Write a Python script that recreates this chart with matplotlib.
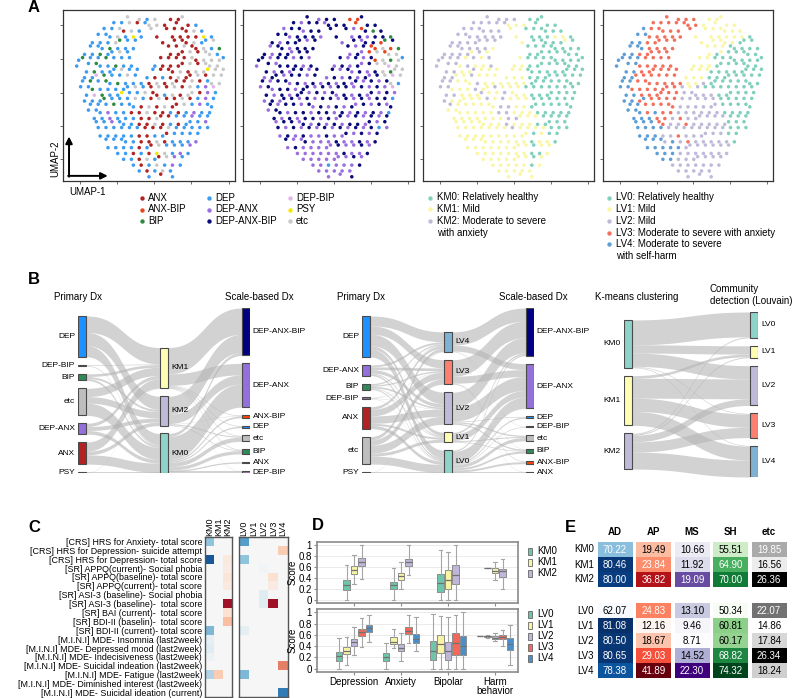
import numpy as np
import matplotlib
matplotlib.use('Agg')
import matplotlib.pyplot as plt
from matplotlib.patches import Rectangle

plt.rcParams['font.family'] = ['Liberation Sans', 'DejaVu Sans']

# ---------------- data ----------------
# UMAP panels: each char is one patient ('.' = empty)
map_primary = [
    "..............e..e.D.e...A.Ae..........",
    "..........D.D.e.A.De.e.A..A..A.D.......",
    "........D.D.eA.e.D..e...A.A.AA.e.D.....",
    "......D.DD.e.D.P.D...A...A.A.A.A.P.D...",
    ".....D.D.D.eB.D.D......A..A.AA.e.DD.e..",
    "....D.DD.B.D.D.D........A.A.e.AA.e.D.B.",
    "...D.D.B.DD.e.D..........A.AA.e.A.ee.D",
    ".DB.D.D.B.D.D.D.......A.A.A.A.eA.e.e.eD",
    ".D..D.BD.D.B.D.D.....D.A.A.AA.e.A.ee.e.",
    "...D.B.D.DD.e.D.D...D.A.AA.e.A.e.eP.e.e",
    "...D.Db.B.D.D.e.D..D.A.D.A.e.AA.e.A.e.e",
    "..D.B.D.BD.B.D.D.D.A.e.A.eA.A.e.A.De.e.",
    "..D.DB.D.D.D.DD.e.D.A.e.A.e.A.e.D.N.b..",
    "...D.b.B.D.DP.D.D.e.AA.D.e.A.ee.A.N.D..",
    "...D.D.DB.D.D.D.e.D.A.e.A.A.e.A.D.N.D..",
    "....D.D.D.B.D.DD.A.e.A.e.AA.e.D.N.DD...",
    "....D.DD.N.D.D.A.A.e.A.A.D.A.D.N.D.D...",
    ".....D.D.N.D.D.D.A.A.eA.A.D.D.N.D.D....",
    "......D.D.N.DD.D.A.A.e.A.D.A.DD.D.N....",
    "......D.D.D.D.D.D.A.A.A.e.D.D.D.D.D....",
    ".......D.D.D.D.D.A.A.D.DA.D.D.D.D......",
    "........D.D.DD.D.A.A.e.A.D.D.D.N.......",
    ".........D.D.D.D.A.DA.e.D.D.D.N........",
    "...........D.D.A.D.A.P.e.D.N.D.........",
    ".............D.D.A.e.DA.e.N.D..........",
    "...............D.A.D.e.D.N.D...........",
    ".................D.A.D.e.D.............",
    "...................D..A..D.............",
]
map_scale = [
    "..............X..N.X.X...a.aX..........",
    "..........X.N.X.X.NX.X.X..a..X.X.......",
    "........N.X.XN.X.X..X...X.N.aX.B.X.....",
    "......X.XN.X.X.X.N...X...N.X.N.X.X.B...",
    ".....X.N.X.XX.N.X......N..X.NX.X.aB.X..",
    "....N.XX.N.X.X.X........X.N.X.aa.e.a.B.",
    "...X.N.X.XN.X.X..........N.XN.a.e.ae.e",
    ".XX.N.X.X.N.X.N.......X.N.X.N.Xa.e.B.eD",
    ".N..X.NX.X.X.N.X.....N.X.N.XN.X.e.eb.e.",
    "...X.N.X.NX.X.N.X...X.N.XN.X.N.X.e.Be.e",
    "...N.XX.N.X.X.N.X..N.X.N.X.N.XN.X.e.b.e",
    "..X.N.X.XN.X.N.X.N.X.N.X.NX.N.X.N.Xe.D.",
    "..N.XN.X.X.N.XX.N.X.N.X.X.N.X.N.X.N.b..",
    "...X.N.X.N.XX.N.X.N.XN.X.N.X.NX.N.X.N..",
    "...N.X.NX.X.N.X.N.X.X.N.X.N.X.N.X.X.D..",
    "....X.N.X.X.N.XN.X.N.X.N.XN.X.N.X.NX...",
    "....N.XX.N.X.X.N.X.X.N.X.N.X.N.X.N.D...",
    ".....X.N.X.N.X.X.N.X.NX.N.X.N.X.N.X....",
    "......N.X.X.NX.N.X.N.X.N.X.X.NX.N.X....",
    "......X.N.X.N.X.N.X.N.X.N.X.N.X.D.N....",
    ".......N.X.N.X.N.N.X.N.NX.N.X.N.X......",
    "........X.N.NX.N.N.N.X.N.N.X.N.X.......",
    ".........N.X.N.N.N.NN.X.N.N.X.N........",
    "...........N.N.N.N.N.N.X.N.N.X.........",
    ".............N.N.N.N.NN.N.X.N..........",
    "...............N.N.D.N.N.N.X...........",
    ".................N.N.N.N.N.............",
    "...................N..N..X.............",
]
map_km = [
    "..............2..2.2.2...0.00..........",
    "..........2.2.2.2.21.1.1..0..0.0.......",
    "........2.2.22.2.2..1...0.0.00.0.0.....",
    "......2.22.2.2.2.2...1...0.0.0.1.1.0...",
    ".....2.2.2.22.2.2......1..0.00.0.01.0..",
    "....2.22.2.2.2.1........0.0.0.00.0.0.0.",
    "...2.2.2.21.2.1..........0.00.0.0.00.0",
    ".22.2.2.1.2.1.2.......1.0.0.0.00.0.0.00",
    ".2..2.21.2.1.1.2.....1.1.0.00.0.0.00.0.",
    "...2.2.1.12.1.1.1...1.1.00.0.0.0.00.0.0",
    "...2.21.1.2.1.1.1..1.1.1.0.0.00.0.0.0.0",
    "..2.2.1.11.2.1.1.1.1.1.1.00.0.0.0.00.0.",
    "..2.21.1.1.2.11.2.1.1.1.0.0.0.0.0.0.0..",
    "...2.2.1.1.12.1.1.2.11.1.0.0.00.0.0.0..",
    "...2.1.11.1.1.2.1.2.1.1.1.0.0.0.0.0.0..",
    "....2.1.1.1.1.11.2.2.1.1.00.0.0.0.00...",
    "....1.11.1.1.1.1.2.2.1.1.1.0.0.0.0.0...",
    ".....1.1.1.1.1.1.1.2.21.1.1.0.0.0.0....",
    "......1.1.1.11.1.1.2.1.1.1.0.00.0.0....",
    "......1.1.1.1.1.1.1.2.1.1.1.1.0.0.0....",
    ".......1.1.1.1.1.1.1.1.11.0.1.0.0......",
    "........1.1.11.1.1.1.1.1.0.1.1.0.......",
    ".........1.1.1.1.1.1.11.1.0.1.1........",
    "...........1.1.1.1.1.1.1.0.0.1.........",
    ".............1.1.1.1.11.1.0.1..........",
    "...............1.1.1.1.1.0.1...........",
    ".................1.1.1.1.1.............",
    "...................1..1..1.............",
]
map_lv = [
    "..............3..3.3.3...1.11..........",
    "..........3.3.3.3.33.3.1..1..1.1.......",
    "........4.3.33.3.3..3...1.1.11.1.1.....",
    "......4.43.3.3.3.3...1...1.1.1.1.1.0...",
    ".....4.4.3.33.3.3......1..1.11.1.00.0..",
    "....4.44.3.3.3.3........1.1.1.00.0.0.0.",
    "...4.4.3.33.3.3..........1.01.0.0.00.0",
    ".44.4.4.3.3.3.3.......1.1.0.0.00.0.0.00",
    ".4..4.43.3.3.3.3.....1.1.1.00.0.0.00.0.",
    "...4.4.3.33.3.3.3...1.1.10.0.0.0.00.0.0",
    "...4.43.3.3.3.3.3..1.1.1.0.0.00.0.0.0.0",
    "..4.4.3.33.3.3.3.3.1.1.2.00.0.0.0.00.0.",
    "..4.43.3.3.3.33.3.2.1.2.0.0.0.0.0.0.0..",
    "...4.4.3.3.33.3.3.2.22.2.2.0.00.0.0.0..",
    "...4.4.34.3.3.3.3.2.2.2.2.2.0.0.0.0.0..",
    "....4.4.3.3.3.33.2.2.2.2.22.0.0.0.00...",
    "....4.44.3.4.3.3.2.2.2.2.2.2.0.0.0.0...",
    ".....4.4.4.3.3.2.3.2.22.2.2.2.0.0.0....",
    "......4.4.4.33.2.2.3.2.2.2.2.20.0.0....",
    "......4.4.4.4.2.2.2.2.2.2.2.2.0.0.0....",
    ".......4.4.4.2.2.3.2.2.22.2.2.0.0......",
    "........4.4.42.4.2.3.2.2.2.2.2.0.......",
    ".........4.4.4.4.4.22.2.2.2.2.2........",
    "...........4.4.4.2.2.2.2.2.2.2.........",
    ".............4.4.2.2.22.2.2.2..........",
    "...............2.2.2.2.2.2.2...........",
    ".................2.2.2.2.2.............",
    "...................2..2..2.............",
]
dx_names = {'A': 'ANX', 'a': 'ANX-BIP', 'B': 'BIP', 'D': 'DEP', 'N': 'DEP-ANX',
            'X': 'DEP-ANX-BIP', 'b': 'DEP-BIP', 'P': 'PSY', 'e': 'etc'}
dx_colors = {'A': '#B22222', 'a': '#E8461E', 'B': '#2E8B3E', 'D': '#3D9BF0', 'N': '#9B6FE0',
             'X': '#0A0A7A', 'b': '#E2B4EA', 'P': '#F5E800', 'e': '#C8C8C8'}
km_colors = {'0': '#7FD0BC', '1': '#FAF6A4', '2': '#BEBADA'}
lv_colors = {'0': '#7FD0BC', '1': '#FAF6A4', '2': '#BEBADA', '3': '#F4705E', '4': '#5E9ED6'}
km_legend = ['KM0: Relatively healthy', 'KM1: Mild', 'KM2: Moderate to severe\nwith anxiety']
lv_legend = ['LV0: Relatively healthy', 'LV1: Mild', 'LV2: Mild', 'LV3: Moderate to severe with anxiety',
             'LV4: Moderate to severe\nwith self-harm']

# Sankey diagrams (B)
s1_cols = [['DEP', 'DEP-BIP', 'BIP', 'etc', 'DEP-ANX', 'ANX', 'PSY'],
           ['KM1', 'KM2', 'KM0'],
           ['DEP-ANX-BIP', 'DEP-ANX', 'ANX-BIP', 'DEP', 'etc', 'BIP', 'ANX', 'DEP-BIP']]
s1_flows = [
    [('DEP', 'KM1', 50), ('DEP', 'KM2', 40), ('DEP', 'KM0', 34),
     ('DEP-BIP', 'KM1', 2), ('DEP-BIP', 'KM0', 2),
     ('BIP', 'KM1', 8), ('BIP', 'KM2', 6), ('BIP', 'KM0', 6),
     ('etc', 'KM1', 25), ('etc', 'KM2', 20), ('etc', 'KM0', 37),
     ('DEP-ANX', 'KM1', 10), ('DEP-ANX', 'KM2', 12), ('DEP-ANX', 'KM0', 11),
     ('ANX', 'KM1', 28), ('ANX', 'KM2', 11), ('ANX', 'KM0', 28),
     ('PSY', 'KM1', 1), ('PSY', 'KM0', 2)],
    [('KM1', 'DEP-ANX-BIP', 80), ('KM1', 'DEP-ANX', 35), ('KM1', 'ANX-BIP', 2), ('KM1', 'DEP', 2),
     ('KM1', 'etc', 2), ('KM1', 'BIP', 2), ('KM1', 'DEP-BIP', 1),
     ('KM2', 'DEP-ANX-BIP', 55), ('KM2', 'DEP-ANX', 28), ('KM2', 'ANX-BIP', 1), ('KM2', 'etc', 3),
     ('KM2', 'BIP', 2),
     ('KM0', 'DEP-ANX-BIP', 9), ('KM0', 'DEP-ANX', 70), ('KM0', 'ANX-BIP', 5), ('KM0', 'DEP', 4),
     ('KM0', 'etc', 13), ('KM0', 'BIP', 10), ('KM0', 'ANX', 4), ('KM0', 'DEP-BIP', 5)],
]
s2_cols = [['DEP', 'DEP-ANX', 'BIP', 'DEP-BIP', 'ANX', 'etc', 'PSY'],
           ['LV4', 'LV3', 'LV2', 'LV1', 'LV0'],
           ['DEP-ANX-BIP', 'DEP-ANX', 'DEP', 'DEP-BIP', 'etc', 'BIP', 'ANX-BIP', 'ANX']]
s2_flows = [
    [('DEP', 'LV4', 30), ('DEP', 'LV3', 25), ('DEP', 'LV2', 35), ('DEP', 'LV1', 10), ('DEP', 'LV0', 24),
     ('DEP-ANX', 'LV4', 6), ('DEP-ANX', 'LV3', 8), ('DEP-ANX', 'LV2', 10), ('DEP-ANX', 'LV1', 3),
     ('DEP-ANX', 'LV0', 5),
     ('BIP', 'LV4', 4), ('BIP', 'LV3', 4), ('BIP', 'LV2', 5), ('BIP', 'LV1', 2), ('BIP', 'LV0', 3),
     ('DEP-BIP', 'LV4', 1), ('DEP-BIP', 'LV3', 1), ('DEP-BIP', 'LV2', 1), ('DEP-BIP', 'LV0', 1),
     ('ANX', 'LV4', 8), ('ANX', 'LV3', 20), ('ANX', 'LV2', 22), ('ANX', 'LV1', 6), ('ANX', 'LV0', 10),
     ('etc', 'LV4', 10), ('etc', 'LV3', 16), ('etc', 'LV2', 24), ('etc', 'LV1', 9), ('etc', 'LV0', 24),
     ('PSY', 'LV4', 1), ('PSY', 'LV0', 2)],
    [('LV4', 'DEP-ANX-BIP', 40), ('LV4', 'DEP-ANX', 18), ('LV4', 'DEP-BIP', 1), ('LV4', 'BIP', 1),
     ('LV3', 'DEP-ANX-BIP', 50), ('LV3', 'DEP-ANX', 21), ('LV3', 'ANX-BIP', 2), ('LV3', 'ANX', 1),
     ('LV2', 'DEP-ANX-BIP', 45), ('LV2', 'DEP-ANX', 42), ('LV2', 'DEP', 2), ('LV2', 'etc', 4),
     ('LV2', 'BIP', 4),
     ('LV1', 'DEP-ANX-BIP', 5), ('LV1', 'DEP-ANX', 20), ('LV1', 'etc', 3), ('LV1', 'BIP', 2),
     ('LV0', 'DEP-ANX-BIP', 4), ('LV0', 'DEP-ANX', 34), ('LV0', 'DEP', 4), ('LV0', 'DEP-BIP', 2),
     ('LV0', 'etc', 10), ('LV0', 'BIP', 6), ('LV0', 'ANX-BIP', 6), ('LV0', 'ANX', 3)],
]
s3_cols = [['KM0', 'KM1', 'KM2'], ['LV0', 'LV1', 'LV2', 'LV3', 'LV4']]
s3_flows = [
    [('KM0', 'LV0', 75), ('KM0', 'LV1', 25), ('KM0', 'LV2', 40), ('KM0', 'LV3', 2), ('KM0', 'LV4', 2),
     ('KM1', 'LV1', 8), ('KM1', 'LV2', 60), ('KM1', 'LV3', 40), ('KM1', 'LV4', 42),
     ('KM2', 'LV0', 3), ('KM2', 'LV1', 3), ('KM2', 'LV2', 20), ('KM2', 'LV3', 31), ('KM2', 'LV4', 51)],
]
node_colors = {'DEP': '#1E90FF', 'DEP-BIP': '#9B72A8', 'BIP': '#2E8B57', 'etc': '#BEBEBE',
               'DEP-ANX': '#9370DB', 'ANX': '#B22222', 'PSY': '#333333', 'ANX-BIP': '#FF4500',
               'DEP-ANX-BIP': '#000080', 'KM0': '#8DD3C7', 'KM1': '#FFFFB3', 'KM2': '#BEBADA',
               'LV0': '#8DD3C7', 'LV1': '#FFFFB3', 'LV2': '#BEBADA', 'LV3': '#FB8072', 'LV4': '#80B1D3'}

# heatmap (C)
c_rows = ['[CRS] HRS for Anxiety- total score',
          '[CRS] HRS for Depression- suicide attempt',
          '[CRS] HRS for Depression- total score',
          '[SR] APPQ(current)- Social phobia',
          '[SR] APPQ(baseline)- total score',
          '[SR] APPQ(current)- total score',
          '[SR] ASI-3 (baseline)- Social phobia',
          '[SR] ASI-3 (baseline)-  total score',
          '[SR] BAI (current)-  total score',
          '[SR] BDI-II (baselin)-  total score',
          '[SR] BDI-II (current)- total score',
          '[M.I.N.I] MDE- Insomnia (last2week)',
          '[M.I.N.I] MDE- Depressed mood (last2week)',
          '[M.I.N.I] MDE- Indecisiveness (last2week)',
          '[M.I.N.I] MDE- Suicidal indeation (last2week)',
          '[M.I.N.I] MDE- Fatigue (last2week)',
          '[M.I.N.I] MDE- Diminished interest (last2week)',
          '[M.I.N.I] MDE- Suicidal ideation (current)']
km_labels = ['KM0', 'KM1', 'KM2']
lv_labels = ['LV0', 'LV1', 'LV2', 'LV3', 'LV4']
c_km = [[-0.40, 0, 0], [0, 0, 0], [-0.85, 0, 0.10], [0, 0, 0.08], [0, 0, 0.12], [0, 0, 0.10],
        [0, 0, 0], [0, 0, 0.85], [0, 0, 0.15], [0, 0, 0.30], [-0.45, 0, 0], [-0.10, 0, 0],
        [-0.12, 0, 0], [-0.05, 0, 0], [0, 0, 0], [-0.30, 0.25, 0], [0, 0, 0], [0, 0, 0]]
c_lv = [[-0.55, 0, 0, 0, 0], [0, 0, 0, 0, 0.25], [-0.40, 0, 0, 0, 0], [0, 0, -0.03, 0, 0],
        [0, 0, 0, 0.15, 0], [0, 0, 0, 0.08, 0], [0, 0, -0.12, 0, 0], [0, 0, -0.12, 0.85, 0],
        [0, 0, 0, 0, 0], [0, 0, 0, 0, 0], [-0.10, 0, 0, 0, 0], [0, 0, 0, 0, 0], [0, 0, 0, 0, 0],
        [0, 0, 0, 0, 0], [0, 0, 0, 0, 0.50], [-0.45, 0, 0, 0, 0], [0, 0, 0, 0, 0], [0, 0, 0, 0, -0.70]]

# boxplots (D): (whislo, q1, median, q3, whishi)
d_groups = ['Depression', 'Anxiety', 'Bipolar', 'Harm\nbehavior']
d_km = [
    [(0.00, 0.17, 0.27, 0.37, 0.63), (0.28, 0.47, 0.55, 0.62, 0.82), (0.38, 0.62, 0.70, 0.77, 1.00)],
    [(0.00, 0.19, 0.27, 0.33, 0.58), (0.20, 0.37, 0.44, 0.50, 0.70), (0.46, 0.62, 0.69, 0.75, 1.00)],
    [(0.00, 0.15, 0.31, 0.48, 0.92), (0.00, 0.20, 0.37, 0.55, 0.88), (0.00, 0.28, 0.45, 0.63, 1.00)],
    [(0.58, 0.58, 0.58, 0.58, 0.58), (0.37, 0.49, 0.53, 0.58, 0.69), (0.20, 0.42, 0.52, 0.57, 0.75)],
]
d_lv = [
    [(0.00, 0.13, 0.22, 0.30, 0.54), (0.07, 0.26, 0.32, 0.38, 0.56), (0.25, 0.41, 0.48, 0.53, 0.74),
     (0.39, 0.58, 0.65, 0.70, 0.90), (0.48, 0.65, 0.72, 0.78, 0.96)],
    [(0.00, 0.14, 0.21, 0.27, 0.45), (0.37, 0.43, 0.48, 0.56, 0.70), (0.14, 0.31, 0.37, 0.43, 0.63),
     (0.46, 0.61, 0.67, 0.74, 0.96), (0.31, 0.45, 0.53, 0.62, 0.92)],
    [(0.00, 0.16, 0.31, 0.49, 0.97), (0.00, 0.27, 0.43, 0.60, 0.93), (0.00, 0.15, 0.31, 0.48, 0.92),
     (0.00, 0.25, 0.45, 0.63, 0.95), (0.00, 0.25, 0.40, 0.58, 1.00)],
    [(0.58, 0.58, 0.58, 0.58, 0.58), (0.55, 0.57, 0.58, 0.58, 0.60), (0.50, 0.53, 0.55, 0.58, 0.63),
     (0.40, 0.52, 0.56, 0.60, 0.69), (0.07, 0.33, 0.43, 0.54, 0.78)],
]
box_km_colors = ['#6DC6AA', '#F8F4A6', '#BFB6DA']
box_lv_colors = ['#6DC6AA', '#F8F4A6', '#BFB6DA', '#F2685A', '#4A8FCB']

# table (E)
e_cols = ['AD', 'AP', 'MS', 'SH', 'etc']
e_km = [[70.22, 19.49, 10.66, 55.51, 19.85],
        [80.46, 23.84, 11.92, 64.90, 16.56],
        [80.00, 36.82, 19.09, 70.00, 26.36]]
e_lv = [[62.07, 24.83, 13.10, 50.34, 22.07],
        [81.08, 12.16, 9.46, 60.81, 14.86],
        [80.50, 18.67, 8.71, 60.17, 17.84],
        [80.65, 29.03, 14.52, 68.82, 26.34],
        [78.38, 41.89, 22.30, 74.32, 18.24]]
e_cmaps = ['Blues', 'Reds', 'Purples', 'Greens', 'Greys']

# ---------------- figure ----------------
W, H = 793, 698
fig = plt.figure(figsize=(W / 100, H / 100), dpi=100)

# overlay in pixel units for free text / legends
ov = fig.add_axes([0, 0, 1, 1])
ov.set_xlim(0, W)
ov.set_ylim(H, 0)
ov.axis('off')


def add_ax(x0, y0, x1, y1):
    # pixel box (top-left origin) -> figure fraction
    return fig.add_axes([x0 / W, 1 - y1 / H, (x1 - x0) / W, (y1 - y0) / H])


for lab, x, y in [('A', 34, 8), ('B', 34, 279), ('C', 34, 528), ('D', 318, 526), ('E', 570, 527)]:
    ov.text(x, y, lab, fontsize=12, fontweight='bold', ha='center', va='center')

# ---- A: UMAP scatters ----
maps = [(map_primary, dx_colors), (map_scale, dx_colors), (map_km, km_colors), (map_lv, lv_colors)]
boxes = [(63, 10, 235, 181), (243, 10, 414, 181), (423, 10, 594, 181), (603, 10, 773, 181)]
dc, dr = 0.886 / 39, 0.92 / 27
for (m, cols), bx in zip(maps, boxes):
    ax = add_ax(*bx)
    xs, ys, cs = [], [], []
    for r, row in enumerate(m):
        for c, ch in enumerate(row):
            if ch != '.':
                # staggered cell layout so the map does not read as a square grid
                xs.append(0.057 + (c + 0.5 * (r % 2)) * dc)
                ys.append(0.96 - (r + 0.45 * (c % 2)) * dr)
                cs.append(cols[ch])
    ax.scatter(xs, ys, s=6.5, c=cs, linewidths=0)
    ax.set_xlim(0, 1)
    ax.set_ylim(0, 1)
    ax.set_xticks([0.1, 0.316, 0.531, 0.747, 0.963])
    ax.set_yticks([0.13, 0.32, 0.515, 0.713, 0.913])
    ax.tick_params(length=2.5, width=0.6, color='#555555', labelbottom=False, labelleft=False)
    for sp in ax.spines.values():
        sp.set_color('#333333')
        sp.set_linewidth(0.9)
    if bx[0] == 63:
        ax.annotate('', xy=(0.035, 0.26), xytext=(0.035, 0.025), xycoords='axes fraction',
                    arrowprops=dict(arrowstyle='-|>', lw=1.4, color='black', shrinkA=0, shrinkB=0))
        ax.annotate('', xy=(0.26, 0.03), xytext=(0.03, 0.03), xycoords='axes fraction',
                    arrowprops=dict(arrowstyle='-|>', lw=1.4, color='black', shrinkA=0, shrinkB=0))

ov.text(55, 159, 'UMAP-2', rotation=90, fontsize=7, ha='center', va='center')
ov.text(87, 192, 'UMAP-1', fontsize=7, ha='center', va='center')

codes = ['A', 'a', 'B', 'D', 'N', 'X', 'b', 'P', 'e']
for i, code in enumerate(codes):
    x = [142, 209, 290][i // 3]
    y = 198 + (i % 3) * 11.5
    ov.scatter([x], [y], s=10, color=dx_colors[code], linewidths=0)
    ov.text(x + 6, y, dx_names[code], fontsize=7, va='center')

for i, txt in enumerate(km_legend):
    y = 197.5 + i * 11.5
    ov.scatter([430], [y], s=10, color=km_colors[str(i)], linewidths=0)
    ov.text(437, y - 5, txt, fontsize=7, va='top', linespacing=1.25)
for i, txt in enumerate(lv_legend):
    y = 197.5 + i * 11.7
    ov.scatter([609], [y], s=10, color=lv_colors[str(i)], linewidths=0)
    ov.text(616, y - 5, txt, fontsize=7, va='top', linespacing=1.25)


# ---- B: Sankey diagrams ----
def draw_sankey(ax, cols, stages, align, w, sides, pad, gap=24):
    n = len(cols)
    vin = [dict.fromkeys(c, 0) for c in cols]
    vout = [dict.fromkeys(c, 0) for c in cols]
    for k, flows in enumerate(stages):
        for s, d, v in flows:
            vout[k][s] += v
            vin[k + 1][d] += v
    size = [{m: max(vin[k][m], vout[k][m]) for m in cols[k]} for k in range(n)]
    totals = [sum(size[k].values()) + gap * (len(cols[k]) - 1) for k in range(n)]
    hmax = max(totals)
    pos = []
    for k in range(n):
        top = totals[k] if align == 'bottom' else (hmax + totals[k]) / 2
        p = {}
        for m in cols[k]:
            p[m] = (top - size[k][m], top)
            top -= size[k][m] + gap
        pos.append(p)

    t = np.linspace(0, 1, 60)
    ease = 3 * t ** 2 - 2 * t ** 3
    for k, flows in enumerate(stages):
        src_off = {m: pos[k][m][1] for m in cols[k]}
        dst_off = {m: pos[k + 1][m][1] for m in cols[k + 1]}
        seg = {}
        for s, d, v in sorted(flows, key=lambda f: (cols[k].index(f[0]), cols[k + 1].index(f[1]))):
            seg[(s, d)] = [src_off[s]]
            src_off[s] -= v
        for s, d, v in sorted(flows, key=lambda f: (cols[k + 1].index(f[1]), cols[k].index(f[0]))):
            seg[(s, d)].append(dst_off[d])
            dst_off[d] -= v
        x0, x1 = k + w, k + 1
        xs = x0 + (x1 - x0) * (1.5 * t * (1 - t) + t ** 3)
        for s, d, v in flows:
            y0, y1 = seg[(s, d)]
            top = y0 + (y1 - y0) * ease
            ax.fill_between(xs, top - v, top, color='#b4b4b4', alpha=0.6, lw=0, zorder=1)

    for k in range(n):
        for m in cols[k]:
            b, tp = pos[k][m]
            ax.add_patch(Rectangle((k, b), w, tp - b, fc=node_colors[m], ec='#4a4a4a', lw=0.8, zorder=3))
            yc = (b + tp) / 2
            if sides[k] == 'left':
                ax.text(k - pad, yc, m, fontsize=6, ha='right', va='center')
            else:
                ax.text(k + w + pad, yc, m, fontsize=6, ha='left', va='center')
    ax.set_xlim(0, n - 1 + w)
    ax.set_ylim(0, hmax)
    ax.axis('off')


ax = add_ax(78, 308, 250, 473)
draw_sankey(ax, s1_cols, s1_flows, 'bottom', 0.1, ['left', 'right', 'right'], 0.035)
ax = add_ax(362, 308, 534, 473)
draw_sankey(ax, s2_cols, s2_flows, 'bottom', 0.1, ['left', 'right', 'right'], 0.035)
ax = add_ax(624, 312, 758, 477)
draw_sankey(ax, s3_cols, s3_flows, 'center', 0.063, ['left', 'right'], 0.024)

for x, y, s in [(78, 297, 'Primary Dx'), (259, 297, 'Scale-based Dx'), (361, 297, 'Primary Dx'),
                (533, 297, 'Scale-based Dx'), (637, 297, 'K-means clustering')]:
    ov.text(x, y, s, fontsize=7, ha='center', va='center')
ov.text(710, 295, 'Community\ndetection (Louvain)', fontsize=7, ha='left', va='center', linespacing=1.3)

# ---- C: heatmaps ----
c1 = add_ax(205, 537, 232, 697)
c2 = add_ax(239, 537, 288, 697)
for cax, vals, labs in [(c1, c_km, km_labels), (c2, c_lv, lv_labels)]:
    cax.imshow(np.array(vals), cmap='RdBu_r', vmin=-1, vmax=1, aspect='auto', interpolation='nearest')
    cax.xaxis.tick_top()
    cax.set_xticks(range(len(labs)))
    cax.set_xticklabels(labs, rotation=90, fontsize=6.5)
    cax.tick_params(length=0, pad=1)
    for sp in cax.spines.values():
        sp.set_color('#555555')
        sp.set_linewidth(1)
c1.set_yticks(range(len(c_rows)))
c1.set_yticklabels(c_rows, fontsize=6.4)
c1.tick_params(axis='y', length=0, pad=2)
c2.set_yticks([])

# ---- D: boxplots ----
d_top = add_ax(317, 542, 518, 603)
d_bot = add_ax(317, 609, 518, 672)
for dax, data, colors in [(d_top, d_km, box_km_colors), (d_bot, d_lv, box_lv_colors)]:
    n = len(colors)
    for g, group in enumerate(data):
        stats = [dict(whislo=s[0], q1=s[1], med=s[2], q3=s[3], whishi=s[4]) for s in group]
        positions = [g + (i - (n - 1) / 2) * 0.16 for i in range(n)]
        bp = dax.bxp(stats, positions=positions, widths=0.14, patch_artist=True, showfliers=False,
                     boxprops=dict(edgecolor='#8c8c8c', lw=0.7),
                     whiskerprops=dict(color='#a5a5a5', lw=0.8),
                     capprops=dict(color='#a5a5a5', lw=0.8),
                     medianprops=dict(color='#707070', lw=0.9))
        for patch, col in zip(bp['boxes'], colors):
            patch.set_facecolor(col)
    dax.set_xlim(-0.79, 3.49)
    dax.set_ylim(-0.06, 1.06)
    dax.set_yticks(np.arange(0, 1.01, 0.2))
    dax.set_yticklabels(['0', '0.2', '0.4', '0.6', '0.8', '1'])
    dax.yaxis.grid(True, color='#e8e8e8', lw=0.6)
    dax.set_axisbelow(True)
    dax.set_xticks(range(len(d_groups)))
    dax.tick_params(length=2, color='#8a8a8a', labelsize=7, pad=1.5)
    dax.set_ylabel('Score', fontsize=7, labelpad=1)
    for sp in dax.spines.values():
        sp.set_color('#8a8a8a')
        sp.set_linewidth(1.2)
d_top.set_xticklabels([])
d_bot.set_xticklabels(d_groups, fontsize=7, linespacing=0.95)

for i, lab in enumerate(km_labels):
    y = 551 + i * 11
    ov.add_patch(Rectangle((528, y - 3.5), 4, 7, fc=box_km_colors[i], ec='#666666', lw=0.6))
    ov.text(537, y, lab, fontsize=7, va='center')
for i, lab in enumerate(lv_labels):
    y = 614 + i * 11
    ov.add_patch(Rectangle((528, y - 3.5), 4, 7, fc=box_lv_colors[i], ec='#666666', lw=0.6))
    ov.text(537, y, lab, fontsize=7, va='center')

# ---- E: table ----
e_ax = add_ax(559, 522, 790, 682)
e_ax.set_xlim(-1, 5)
e_ax.set_ylim(140 / 15, -20 / 15)
e_ax.axis('off')
all_vals = np.vstack([e_km, e_lv])
lo, hi = all_vals.min(0), all_vals.max(0)
white_thr = [0.38, 0.38, 0.6, 0.5, 0.38]
lv_start = 4.07
rows = [(km_labels[i], e_km[i], i) for i in range(3)] + \
       [(lv_labels[i], e_lv[i], lv_start + i) for i in range(5)]
for j, name in enumerate(e_cols):
    e_ax.text(j + 0.455, -0.67, name, fontsize=7, fontweight='bold', ha='center', va='center')
for name, vals, y in rows:
    e_ax.text(-0.1, y + 0.5, name, fontsize=7, ha='right', va='center')
    for j, v in enumerate(vals):
        f = (v - lo[j]) / (hi[j] - lo[j])
        e_ax.add_patch(Rectangle((j, y), 0.91, 1, fc=plt.get_cmap(e_cmaps[j])(f), lw=0))
        e_ax.text(j + 0.455, y + 0.52, '%.2f' % v, fontsize=7, ha='center', va='center',
                  color='white' if f > white_thr[j] else 'black')

fig.savefig('out.png', dpi=100)
